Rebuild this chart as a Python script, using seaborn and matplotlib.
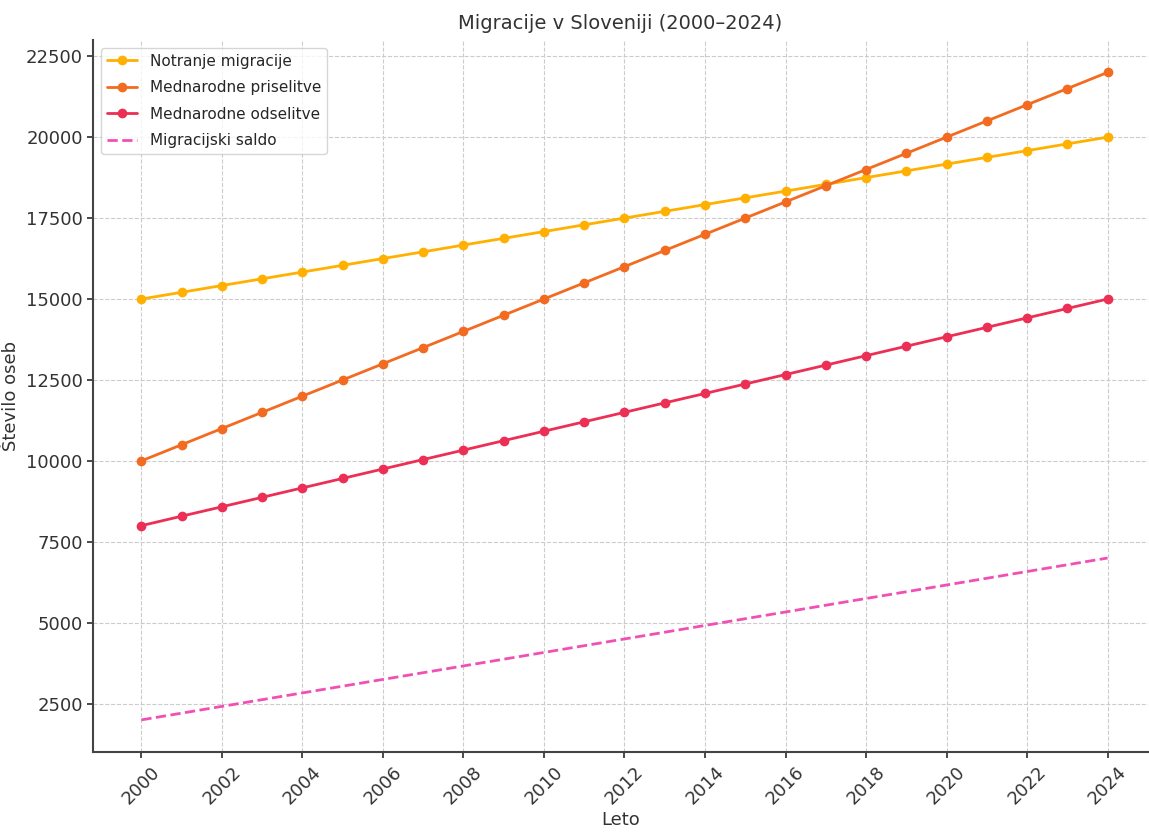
import matplotlib
matplotlib.use('Agg')
import matplotlib.pyplot as plt
import seaborn as sns
import pandas as pd

# podatki, odčitani s slike
years = list(range(2000, 2025))
notranje = [15000, 15208, 15417, 15625, 15833, 16042, 16250, 16458, 16667, 16875,
            17083, 17292, 17500, 17708, 17917, 18125, 18333, 18542, 18750, 18958,
            19167, 19375, 19583, 19792, 20000]
priselitve = [10000, 10500, 11000, 11500, 12000, 12500, 13000, 13500, 14000, 14500,
              15000, 15500, 16000, 16500, 17000, 17500, 18000, 18500, 19000, 19500,
              20000, 20500, 21000, 21500, 22000]
odselitve = [8000, 8292, 8583, 8875, 9167, 9458, 9750, 10042, 10333, 10625,
             10917, 11208, 11500, 11792, 12083, 12375, 12667, 12958, 13250, 13542,
             13833, 14125, 14417, 14708, 15000]
saldo = [2000, 2208, 2417, 2625, 2833, 3042, 3250, 3458, 3667, 3875,
         4083, 4292, 4500, 4708, 4917, 5125, 5333, 5542, 5750, 5958,
         6167, 6375, 6583, 6792, 7000]

df = pd.DataFrame({
    'Leto': years,
    'Notranje migracije': notranje,
    'Mednarodne priselitve': priselitve,
    'Mednarodne odselitve': odselitve,
    'Migracijski saldo': saldo,
})

sns.set_theme(style='whitegrid')
plt.rcParams['font.family'] = ['DejaVu Sans']

fig, ax = plt.subplots(figsize=(11.49, 8.34), dpi=100)
fig.subplots_adjust(left=0.081, right=0.999, top=0.952, bottom=0.098)

sns.lineplot(data=df, x='Leto', y='Notranje migracije', ax=ax, color='#FFB000',
             marker='o', markersize=7, markeredgewidth=0, linewidth=2,
             label='Notranje migracije')
sns.lineplot(data=df, x='Leto', y='Mednarodne priselitve', ax=ax, color='#F26B21',
             marker='o', markersize=7, markeredgewidth=0, linewidth=2,
             label='Mednarodne priselitve')
sns.lineplot(data=df, x='Leto', y='Mednarodne odselitve', ax=ax, color='#EC2F55',
             marker='o', markersize=7, markeredgewidth=0, linewidth=2,
             label='Mednarodne odselitve')
sns.lineplot(data=df, x='Leto', y='Migracijski saldo', ax=ax, color='#F050B4',
             linestyle='--', linewidth=2, label='Migracijski saldo')

ax.set_title('Migracije v Sloveniji (2000–2024)', fontsize=14, color='#333333', pad=8)
ax.set_xlabel('Leto', fontsize=13, color='#333333', labelpad=2)
ax.set_ylabel('Število oseb', fontsize=13, color='#333333', labelpad=4)

ax.set_xticks(years[::2])
ax.tick_params(axis='x', rotation=45, labelsize=13, colors='#333333', length=4, direction='out', bottom=True)
ax.tick_params(axis='y', labelsize=13, colors='#333333', length=4, direction='out', left=True)
ax.set_xlim(2000 - 1.2, 2024 + 1.0)

ax.grid(True, linestyle='--', color='#cccccc', linewidth=0.8)
sns.despine(ax=ax)
for side in ['left', 'bottom']:
    ax.spines[side].set_color('#444444')
    ax.spines[side].set_linewidth(1.5)

leg = ax.legend(loc='upper left', fontsize=11, frameon=True, labelspacing=0.75)
leg.get_frame().set_edgecolor('#cccccc')

plt.savefig('out.png', dpi=100)
